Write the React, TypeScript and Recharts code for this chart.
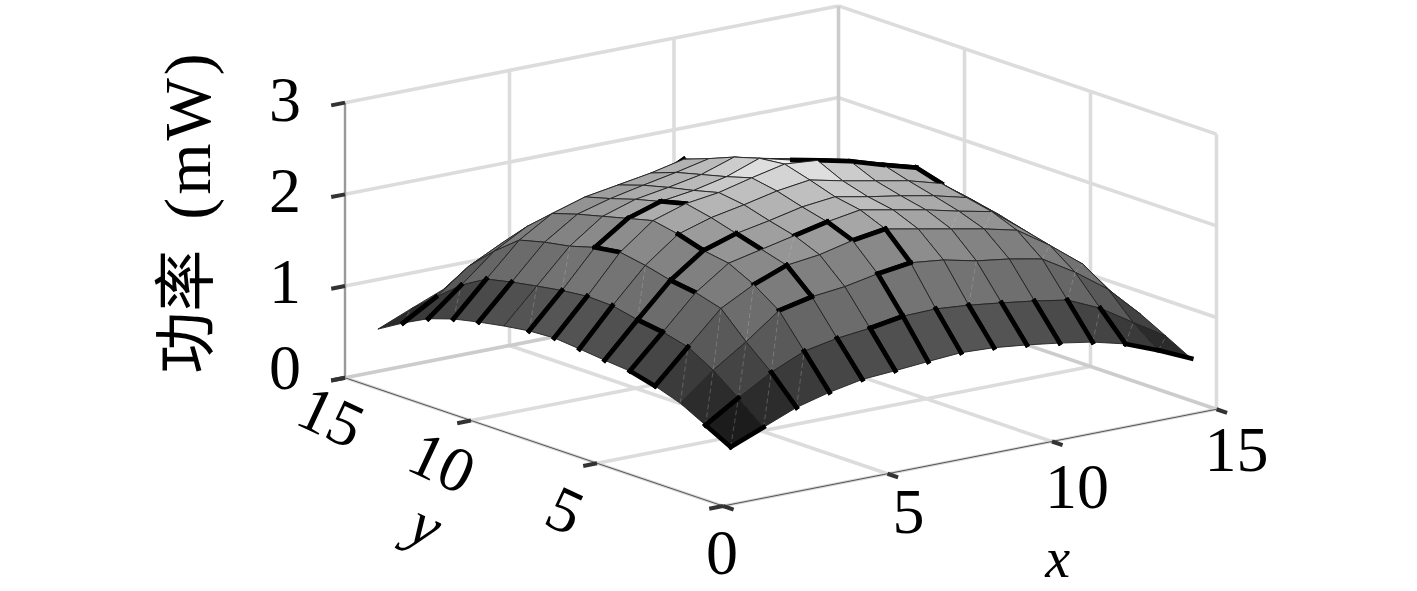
import { Scatter, ScatterChart, XAxis, YAxis } from 'recharts';

const CHART_W = 1417;
const CHART_H = 591;
const SERIF = '"Liberation Serif", "Noto Sans CJK SC", serif';

// power in mW, one row per y = 1..15, one column per x = 1..15
const powerRows = [
  [0.48, 0.625, 0.77, 0.865, 0.935, 0.96, 0.99, 1.016, 1.0, 0.96, 0.91, 0.85, 0.76, 0.62, 0.46],
  [0.625, 0.85, 1.06, 1.22, 1.29, 1.33, 1.39, 1.4, 1.37, 1.325, 1.275, 1.215, 1.055, 0.83, 0.61],
  [0.77, 1.06, 1.3, 1.57, 1.65, 1.69, 1.76, 1.81, 1.77, 1.69, 1.64, 1.57, 1.355, 1.1, 0.755],
  [0.865, 1.22, 1.57, 1.76, 1.9, 1.945, 2.03, 2.085, 2.015, 1.945, 1.875, 1.79, 1.555, 1.28, 0.86],
  [0.935, 1.29, 1.65, 1.9, 1.98, 2.06, 2.14, 2.2, 2.13, 2.06, 1.975, 1.9, 1.625, 1.325, 0.98],
  [0.96, 1.33, 1.69, 1.945, 2.06, 2.13, 2.21, 2.25, 2.18, 2.12, 2.05, 1.96, 1.7, 1.38, 1.0],
  [0.99, 1.39, 1.76, 2.03, 2.14, 2.21, 2.29, 2.34, 2.26, 2.19, 2.12, 2.02, 1.76, 1.42, 1.02],
  [1.016, 1.4, 1.81, 2.085, 2.2, 2.25, 2.34, 2.42, 2.39, 2.31, 2.2, 2.1, 1.81, 1.45, 1.04],
  [1.0, 1.37, 1.77, 2.015, 2.13, 2.18, 2.26, 2.39, 2.3, 2.21, 2.135, 2.02, 1.75, 1.4, 1.0],
  [0.96, 1.325, 1.69, 1.945, 2.06, 2.12, 2.19, 2.31, 2.21, 2.14, 2.06, 1.95, 1.69, 1.35, 0.96],
  [0.91, 1.275, 1.64, 1.875, 1.975, 2.05, 2.12, 2.2, 2.135, 2.06, 1.98, 1.87, 1.62, 1.29, 0.92],
  [0.85, 1.215, 1.57, 1.79, 1.9, 1.96, 2.02, 2.1, 2.02, 1.95, 1.87, 1.76, 1.52, 1.21, 0.86],
  [0.76, 1.055, 1.355, 1.555, 1.625, 1.7, 1.76, 1.81, 1.75, 1.69, 1.62, 1.52, 1.31, 1.05, 0.75],
  [0.62, 0.83, 1.1, 1.28, 1.325, 1.38, 1.42, 1.45, 1.4, 1.35, 1.29, 1.21, 1.05, 0.84, 0.62],
  [0.46, 0.61, 0.755, 0.86, 0.98, 1.0, 1.02, 1.04, 1.0, 0.96, 0.92, 0.86, 0.75, 0.62, 0.47],
];

const xTicks = [0, 5, 10, 15];
const yTicks = [0, 5, 10, 15];
const zTicks = [0, 1, 2, 3];

// grey level at a few heights
const shadeHeights = [0.48, 1.0, 1.4, 1.65, 1.9, 2.05, 2.2, 2.3, 2.4];
const shadeLevels = [0.11, 0.33, 0.46, 0.5, 0.585, 0.66, 0.74, 0.84, 0.92];

// grid vertices [x, y] joined by the heavy black route
const routePaths = [
  [[2, 1], [1, 1], [1, 2], [2, 2]],
  [[2, 4], [1, 4], [1, 5], [2, 5]],
  [[1, 6], [2, 6]], [[1, 7], [2, 7]], [[1, 8], [2, 8]], [[1, 9], [2, 9]],
  [[1, 11], [2, 11]], [[1, 12], [2, 12]], [[1, 13], [2, 13]], [[1, 14], [2, 14]],
  [[3, 1], [3, 2]], [[4, 1], [4, 2]], [[5, 1], [5, 2]], [[6, 1], [6, 2]],
  [[8, 1], [8, 2]], [[9, 1], [9, 2]], [[10, 1], [10, 2]], [[11, 1], [11, 2]],
  [[12, 1], [12, 2]], [[13, 2], [13, 1], [14, 1], [15, 1]],
  [[2, 5], [2, 6], [3, 6], [3, 5]],
  [[3, 6], [4, 6], [5, 6], [5, 5]],
  [[4, 6], [4, 7]],
  [[4, 4], [5, 4], [5, 3], [4, 3]],
  [[6, 5], [7, 5], [7, 4], [8, 4], [8, 3], [7, 3], [7, 2], [7, 1]],
  [[6, 2], [7, 2]],
  [[3, 8], [3, 9], [4, 9], [5, 9], [5, 8]],
  [[9, 9], [9, 8], [10, 8], [11, 8], [12, 8], [12, 7]],
  [[8, 12], [8, 13]],
];

// low corners of the cells that show a faint split along their diagonal
const splitCells = [
  [1, 1], [1, 2], [1, 3], [2, 1], [2, 2], [2, 3], [3, 2], [3, 3], [3, 1], [2, 6], [2, 9],
  [1, 9], [1, 12], [1, 14], [9, 2], [12, 2], [12, 1], [13, 1], [14, 1], [10, 4], [11, 4], [12, 3], [13, 3], [5, 4],
];

function project(x: number, y: number, z: number) {
  return {
    h: 723 + 32.9 * x - 25.2 * y,
    v: CHART_H - (506 - 6.45 * x - 8.55 * y - 91.7 * z),
  };
}

function grayFor(z: number) {
  let i = 0;
  while (i < shadeHeights.length - 2 && z > shadeHeights[i + 1]) i++;
  const t = (z - shadeHeights[i]) / (shadeHeights[i + 1] - shadeHeights[i]);
  const shade = shadeLevels[i] + t * (shadeLevels[i + 1] - shadeLevels[i]);
  const level = Math.round(255 * Math.min(1, Math.max(0, shade)));
  return `rgb(${level},${level},${level})`;
}

const edgeKey = (a: number[], b: number[]) => {
  const pair = [`${a[0]},${a[1]}`, `${b[0]},${b[1]}`].sort();
  return pair.join('|');
};

const routeEdges = new Set<string>();
routePaths.forEach((path) => {
  path.slice(1).forEach((pt, i) => routeEdges.add(edgeKey(path[i], pt)));
});
const splitKeys = new Set(splitCells.map((c) => c.join(',')));

const heightAt = (x: number, y: number) => powerRows[y - 1][x - 1];

const faces: any[] = [];
for (let y = 1; y < 15; y++) {
  for (let x = 1; x < 15; x++) {
    const grid = [[x, y], [x + 1, y], [x + 1, y + 1], [x, y + 1]];
    const corners = grid.map(([a, b]) => project(a, b, heightAt(a, b)));
    const heavy = [0, 1, 2, 3].filter((i) => routeEdges.has(edgeKey(grid[i], grid[(i + 1) % 4])));
    faces.push({
      ...corners[0],
      corners,
      heavy,
      split: splitKeys.has(`${x},${y}`),
      fill: grayFor(heightAt(x, y)),
      depth: 6.45 * x + 8.55 * y,
    });
  }
}
faces.sort((a, b) => b.depth - a.depth);

function FaceShape({ cx, cy, payload }: any) {
  // one axis unit is one pixel, so corners are offsets from the scaled anchor point
  const pts = payload.corners.map((c: any) => [cx + c.h - payload.h, cy - c.v + payload.v]);
  return (
    <g>
      <polygon
        points={pts.map((p: number[]) => p.join(',')).join(' ')}
        fill={payload.fill}
        stroke="#222"
        strokeWidth={0.9}
        strokeLinejoin="round"
      />
      {payload.split && (
        <line
          x1={pts[0][0]} y1={pts[0][1]} x2={pts[2][0]} y2={pts[2][1]}
          stroke="#c4c4c4" strokeOpacity={0.6} strokeWidth={0.5} strokeDasharray="5 3"
        />
      )}
      {payload.heavy.map((i: number) => (
        <line
          key={i}
          x1={pts[i][0]} y1={pts[i][1]} x2={pts[(i + 1) % 4][0]} y2={pts[(i + 1) % 4][1]}
          stroke="#000" strokeWidth={4.6} strokeLinecap="square"
        />
      ))}
    </g>
  );
}

function LabelShape({ cx, cy, payload }: any) {
  const x = cx + payload.dx;
  const y = cy + payload.dy;
  return (
    <text
      x={x}
      y={y}
      textAnchor="middle"
      dominantBaseline="central"
      fontFamily={SERIF}
      fontSize={payload.size ?? 64}
      fontStyle={payload.italic ? 'italic' : 'normal'}
      fill="#000"
      transform={payload.angle ? `rotate(${payload.angle} ${x} ${y})` : undefined}
    >
      {payload.parts
        ? payload.parts.map((p: any) => (
            <tspan key={p.text} fontSize={p.size} letterSpacing={p.spacing} dx={p.gap}>
              {p.text}
            </tspan>
          ))
        : payload.label}
    </text>
  );
}

const NoPoint = () => <g />;

type Seg = { a: number[]; b: number[]; stroke: string; width: number };
const segments: Seg[] = [];
const seg = (a: number[], b: number[], stroke: string, width: number) => segments.push({ a, b, stroke, width });

const GRID = '#dcdcdc';
const GRID_W = 3.6;
zTicks.slice(1).forEach((z) => {
  seg([0, 15, z], [15, 15, z], GRID, GRID_W);
  seg([15, 15, z], [15, 0, z], GRID, GRID_W);
});
xTicks.slice(1, 3).forEach((x) => {
  seg([x, 0, 0], [x, 15, 0], GRID, GRID_W);
  seg([x, 15, 0], [x, 15, 3], GRID, GRID_W);
});
yTicks.slice(1, 3).forEach((y) => {
  seg([0, y, 0], [15, y, 0], GRID, GRID_W);
  seg([15, y, 0], [15, y, 3], GRID, GRID_W);
});
seg([15, 0, 0], [15, 0, 3], GRID, GRID_W);
seg([15, 15, 0], [15, 15, 3], '#cccccc', GRID_W);
seg([0, 15, 0], [15, 15, 0], '#cccccc', GRID_W);
seg([15, 15, 0], [15, 0, 0], '#cccccc', GRID_W);
seg([0, 0, 0], [15, 0, 0], '#d8d8d8', 3);
seg([0, 0, 0], [0, 15, 0], '#d8d8d8', 3);
seg([0, 0, 0], [15, 0, 0], '#555', 1);
seg([0, 0, 0], [0, 15, 0], '#555', 1);
seg([0, 15, 0], [0, 15, 3], '#999', 2.4);

const TICK = '#333';
xTicks.forEach((x) => seg([x, 0, 0], [x, -0.42, 0], TICK, 4));
yTicks.forEach((y) => seg([0, y, 0], [-0.42, y, 0], TICK, 4));
zTicks.forEach((z) => seg([0, 15, z], [-0.42, 15, z], TICK, 4));

const xLabelOffsets = [[-1, 46], [21, 38], [25, 45], [20, 40]];
const yLabelOffsets = [[0, 0], [-32, 47], [-29, 42], [-14, 39]];
const zLabelOffsets = [[-60, -10], [-60, -5], [-60, -4], [-60, -3]];

const labels = [
  ...zTicks.map((z, i) => ({ ...project(0, 15, z), dx: zLabelOffsets[i][0], dy: zLabelOffsets[i][1], label: String(z) })),
  ...xTicks.map((x, i) => ({ ...project(x, 0, 0), dx: xLabelOffsets[i][0], dy: xLabelOffsets[i][1], label: String(x) })),
  ...yTicks.slice(1).map((y, i) => ({
    ...project(0, y, 0),
    dx: yLabelOffsets[i + 1][0],
    dy: yLabelOffsets[i + 1][1],
    label: String(y),
    angle: 25,
  })),
  { ...project(7.5, 0, 0), dx: 88, dy: 100, label: 'x', italic: true, size: 56 },
  { ...project(0, 7.5, 0), dx: -108, dy: 83, label: 'y', italic: true, size: 62, angle: 25 },
  {
    h: 187,
    v: CHART_H - 212,
    dx: 0,
    dy: 0,
    angle: -90,
    parts: [
      { text: '功率', size: 62 },
      { text: '(mW)', size: 66, spacing: 3, gap: 30 },
    ],
  },
];

export default function App() {
  return (
    <div style={{ position: 'absolute', left: 0, top: 0, width: CHART_W, height: CHART_H, background: '#fff' }}>
      <ScatterChart width={CHART_W} height={CHART_H} margin={{ top: 0, right: 0, bottom: 0, left: 0 }}>
        <XAxis type="number" dataKey="h" domain={[0, CHART_W]} hide allowDataOverflow />
        <YAxis type="number" dataKey="v" domain={[0, CHART_H]} hide allowDataOverflow />
        {segments.map((s, i) => (
          <Scatter
            key={i}
            data={[project(s.a[0], s.a[1], s.a[2]), project(s.b[0], s.b[1], s.b[2])]}
            line={{ stroke: s.stroke, strokeWidth: s.width }}
            shape={NoPoint}
            isAnimationActive={false}
          />
        ))}
        <Scatter data={faces} shape={FaceShape} isAnimationActive={false} />
        <Scatter data={labels} shape={LabelShape} isAnimationActive={false} />
      </ScatterChart>
    </div>
  );
}
